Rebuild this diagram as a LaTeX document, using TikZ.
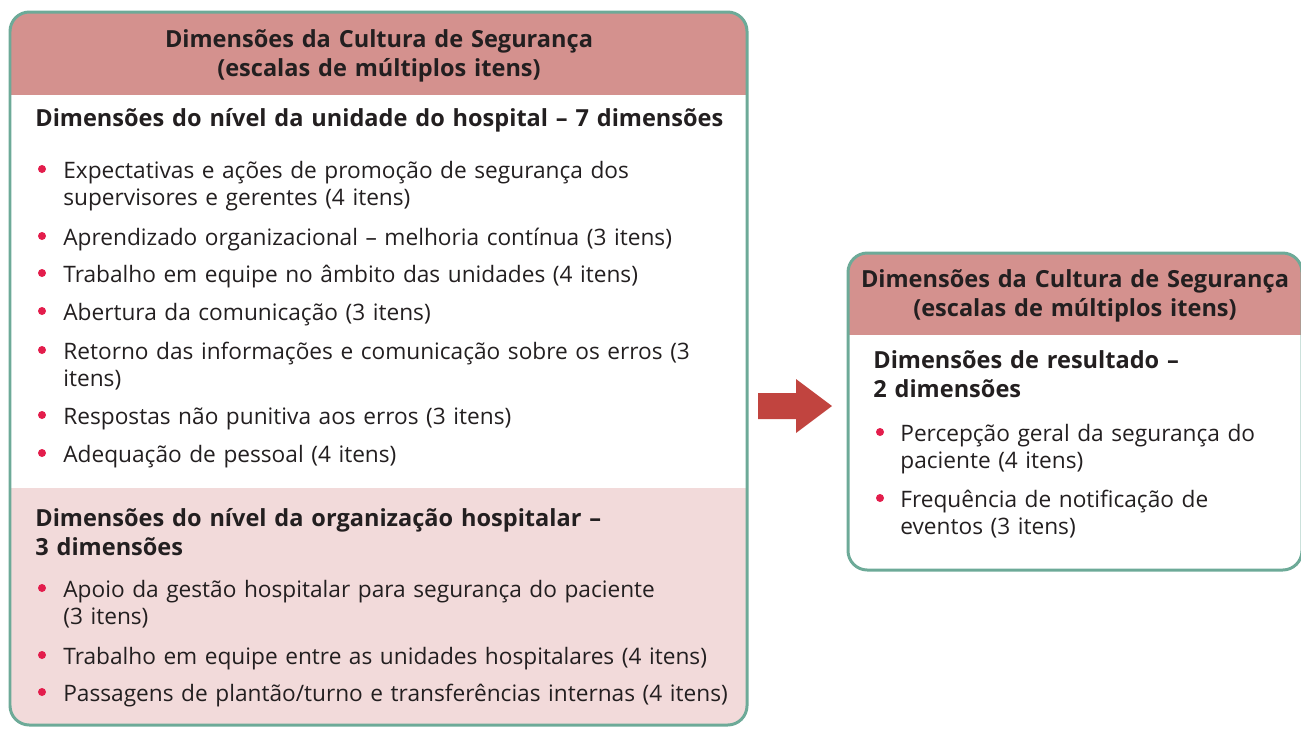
\documentclass[tikz,border=0pt]{standalone}
\usepackage{fontspec}
\setmainfont{Open Sans}
\usepackage{xcolor}
\usetikzlibrary{positioning}

\definecolor{borda}{HTML}{6DAA98}
\definecolor{cabecalho}{HTML}{D4918E}
\definecolor{rosaclaro}{HTML}{F2DADA}
\definecolor{seta}{HTML}{C1443F}
\definecolor{ponto}{HTML}{E31D4C}
\definecolor{texto}{HTML}{231F20}

\tikzset{
  moldura/.style={draw=borda, line width=1.7pt, rounded corners=11pt},
  cabec/.style={font=\bfseries\fontsize{13.4}{17}\selectfont, align=center, anchor=base, inner sep=0, text=texto},
  secao/.style={font=\bfseries\fontsize{13.4}{16.5}\selectfont, align=left, anchor=base west, inner sep=0, text=texto},
  item/.style={font=\fontsize{12.9}{15.9}\selectfont, align=left, anchor=base west, inner sep=0, text=texto, text width=14cm},
}

\begin{document}
\begin{tikzpicture}[x=0.02cm, y=-0.02cm]
\useasboundingbox (0,0) rectangle (1301,728);

% caixa da esquerda
\begin{scope}
  \clip[rounded corners=11pt] (10,12) rectangle (747,725);
  \fill[cabecalho] (10,12) rectangle (747,95);
  \fill[rosaclaro] (10,488) rectangle (747,725);
\end{scope}
\draw[moldura] (10,12) rectangle (747,725);

\node[cabec, text width=14.5cm] (CabA) at (379,47) {Dimensões da Cultura de Segurança\\(escalas de múltiplos itens)};

\node[secao, text width=14cm] (Unid) at (35,126) {Dimensões do nível da unidade do hospital – 7 dimensões};
\node[item] (U1) at (63,178) {Expectativas e ações de promoção de segurança dos\\supervisores e gerentes (4 itens)};
\node[item] (U2) at (63,245) {Aprendizado organizacional – melhoria contínua (3 itens)};
\node[item] (U3) at (63,282) {Trabalho em equipe no âmbito das unidades (4 itens)};
\node[item] (U4) at (63,320) {Abertura da comunicação (3 itens)};
\node[item] (U5) at (63,359) {Retorno das informações e comunicação sobre os erros (3\\itens)};
\node[item] (U6) at (63,424) {Respostas não punitiva aos erros (3 itens)};
\node[item] (U7) at (63,462) {Adequação de pessoal (4 itens)};

\node[secao, text width=14cm] (Org) at (35,526) {Dimensões do nível da organização hospitalar –\\3 dimensões};
\node[item] (O1) at (63,597) {Apoio da gestão hospitalar para segurança do paciente\\(3 itens)};
\node[item] (O2) at (63,664) {Trabalho em equipe entre as unidades hospitalares (4 itens)};
\node[item] (O3) at (63,701) {Passagens de plantão/turno e transferências internas (4 itens)};

\foreach \y in {178,245,282,320,359,424,462,597,664,701}
  \fill[ponto] (42,\y-9) circle[radius=4];

% seta
\fill[seta] (758,393) -- (796,393) -- (796,379) -- (832,406) -- (796,433) -- (796,419) -- (758,419) -- cycle;

% caixa da direita
\begin{scope}
  \clip[rounded corners=11pt] (848,253) rectangle (1302,570);
  \fill[cabecalho] (848,253) rectangle (1302,335);
\end{scope}
\draw[moldura] (848,253) rectangle (1302,570);

\node[cabec, text width=8.8cm] (CabB) at (1075,287) {Dimensões da Cultura de Segurança\\(escalas de múltiplos itens)};

\node[secao, text width=8cm] (Res) at (873,368) {Dimensões de resultado –\\2 dimensões};
\node[item, text width=8cm] (R1) at (900,441) {Percepção geral da segurança do\\paciente (4 itens)};
\node[item, text width=8cm] (R2) at (900,507) {Frequência de notificação de\\eventos (3 itens)};

\foreach \y in {441,507}
  \fill[ponto] (880,\y-9) circle[radius=4];
\end{tikzpicture}
\end{document}
